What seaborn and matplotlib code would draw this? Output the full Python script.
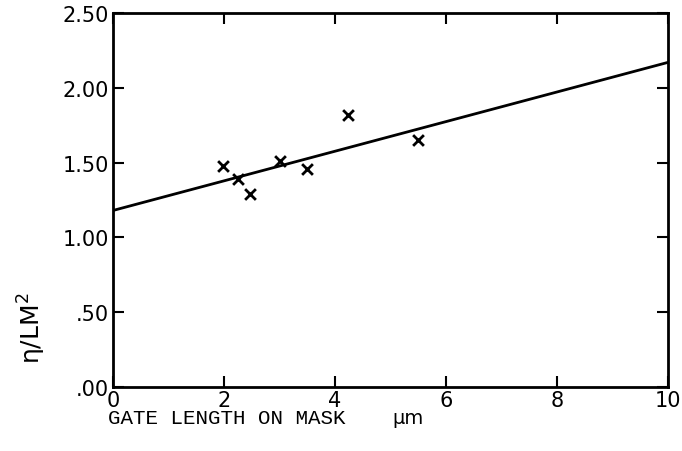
import matplotlib
matplotlib.use("Agg")
import matplotlib.pyplot as plt
import seaborn as sns
import pandas as pd

gate_length = [1.99, 2.26, 2.47, 3.01, 3.49, 4.24, 5.50]
eta_ratio = [1.48, 1.39, 1.29, 1.51, 1.46, 1.82, 1.65]
fit_x = [0, 10]
fit_y = [1.18, 2.17]
x_ticks = [0, 2, 4, 6, 8, 10]
y_ticks = [0.0, 0.5, 1.0, 1.5, 2.0, 2.5]
y_tick_labels = [".00", ".50", "1.00", "1.50", "2.00", "2.50"]

sns.set_theme(style="ticks")
plt.rcParams['font.family'] = ['DejaVu Sans']

fig = plt.figure(figsize=(6.82, 4.52), dpi=100)
ax = fig.add_axes([113/682, 1 - 388/452, (668-113)/682, (388-14)/452])

df = pd.DataFrame({"x": gate_length, "y": eta_ratio})
fit = pd.DataFrame({"x": fit_x, "y": fit_y})
sns.lineplot(data=fit, x="x", y="y", ax=ax, color="black", linewidth=2)
sns.scatterplot(data=df, x="x", y="y", ax=ax, marker="x", s=60, color="black", linewidth=2)

ax.set_xlim(0, 10)
ax.set_ylim(0, 2.5)
ax.set_xticks(x_ticks)
ax.set_xticklabels([str(t) for t in x_ticks], fontsize=15)
ax.set_yticks(y_ticks)
ax.set_yticklabels(y_tick_labels, fontsize=15)
ax.tick_params(direction="in", length=8, width=1.5, top=True, right=True, pad=3, colors="black")
ax.tick_params(axis="x", pad=2)
for s in ax.spines.values():
    s.set_linewidth(2)
    s.set_color("black")
ax.set_xlabel("")
ax.set_ylabel("")

fig.text(108/682, 1 - 419/452, "GATE LENGTH ON MASK", family="Liberation Mono", fontsize=15,
         va="center", ha="left", color="black")
fig.text(392/682, 1 - 419/452, "μm", family="DejaVu Sans", fontsize=14,
         va="center", ha="left", color="black")
fig.text(32/682, 1 - 328/452, "η/LM$^2$", family="DejaVu Sans", fontsize=18,
         rotation=90, va="center", ha="center", color="black")

fig.savefig("out.png", dpi=100)
